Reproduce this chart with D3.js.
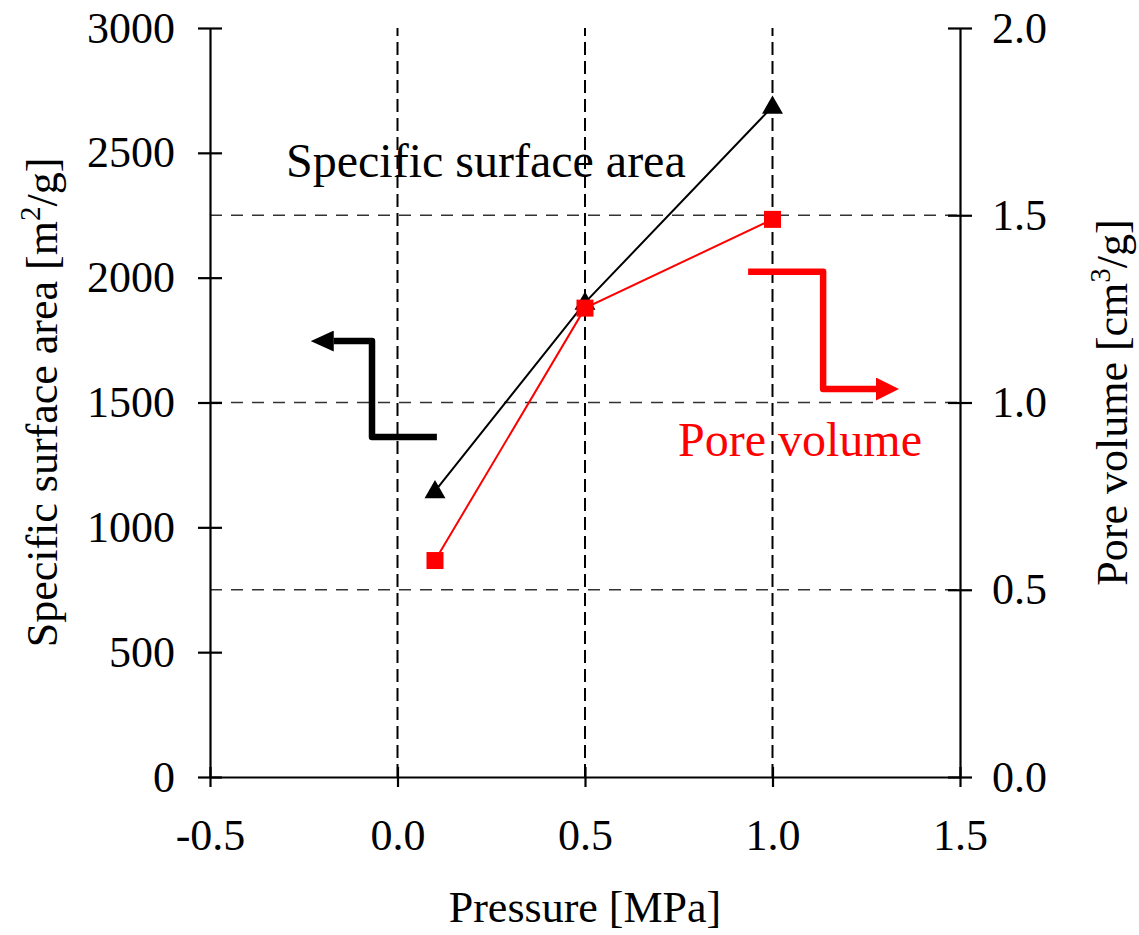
<!DOCTYPE html>
<html>
<head>
<meta charset="utf-8">
<script src="https://cdn.jsdelivr.net/npm/d3@7"></script>
<style>
  body { margin: 0; background: #fff; }
  text { font-family: "Liberation Serif", "Times New Roman", serif; }
</style>
</head>
<body>
<div id="viz"></div>
<script>
var width = 1139;
var height = 935;
var margin = {top: 28, right: 179, bottom: 158, left: 210};

// data
var pressure = [0.1, 0.5, 1.0];
var surfaceArea = [1145, 1900, 2685];
var poreVolume = [0.578, 1.252, 1.489];

var xTicks = [-0.5, 0.0, 0.5, 1.0, 1.5];
var yLeftTicks = [0, 500, 1000, 1500, 2000, 2500, 3000];
var yRightTicks = [0.0, 0.5, 1.0, 1.5, 2.0];
var xGrid = [0.0, 0.5, 1.0];
var yRightGrid = [0.5, 1.0, 1.5];

// annotation arrows, in data units (x, left axis)
var blackArrow = [[0.105, 1362], [-0.068, 1362], [-0.068, 1746], [-0.17, 1746]];
// red arrow, in data units (x, right axis)
var redArrow = [[0.935, 1.349], [1.135, 1.349], [1.135, 1.036], [1.276, 1.036]];

var plotW = width - margin.left - margin.right;
var plotH = height - margin.top - margin.bottom;

var x = d3.scaleLinear().domain([-0.5, 1.5]).range([margin.left, margin.left + plotW]);
var yL = d3.scaleLinear().domain([0, 3000]).range([margin.top + plotH, margin.top]);
var yR = d3.scaleLinear().domain([0, 2]).range([margin.top + plotH, margin.top]);

var svg = d3.select('#viz').append('svg')
  .attr('width', width)
  .attr('height', height);

var defs = svg.append('defs');
function addHead(id, color, w, h) {
  defs.append('marker')
    .attr('id', id)
    .attr('viewBox', '0 0 10 10')
    .attr('refX', 0).attr('refY', 5)
    .attr('markerUnits', 'userSpaceOnUse')
    .attr('markerWidth', w).attr('markerHeight', h)
    .attr('preserveAspectRatio', 'none')
    .attr('orient', 'auto')
    .append('path')
    .attr('d', 'M0,0 L10,5 L0,10 Z')
    .attr('fill', color);
}
addHead('headBlack', '#000', 23, 21);
addHead('headRed', '#ff0000', 23, 23);

// grid lines
svg.append('g').selectAll('line').data(yRightGrid).enter().append('line')
  .attr('x1', x(-0.5)).attr('x2', x(1.5))
  .attr('y1', d => yR(d)).attr('y2', d => yR(d))
  .attr('stroke', '#333').attr('stroke-width', 1.3)
  .attr('stroke-dasharray', '12,9');

svg.append('g').selectAll('line').data(xGrid).enter().append('line')
  .attr('x1', d => x(d)).attr('x2', d => x(d))
  .attr('y1', yL(0)).attr('y2', yL(3000))
  .attr('stroke', '#000').attr('stroke-width', 2)
  .attr('stroke-dasharray', '13,6');

// axes
var fmt1 = d => d3.format('.1f')(d).replace('\u2212', '-');
var xAxis = d3.axisBottom(x).tickValues(xTicks).tickFormat(fmt1)
  .tickSizeInner(10).tickSizeOuter(0).tickPadding(32);
var gx = svg.append('g').attr('transform', 'translate(0,' + yL(0) + ')').call(xAxis);

var leftAxis = d3.axisLeft(yL).tickValues(yLeftTicks).tickFormat(d3.format('d'))
  .tickSizeInner(12).tickSizeOuter(0).tickPadding(23);
var gl = svg.append('g').attr('transform', 'translate(' + x(-0.5) + ',0)').call(leftAxis);

var rightAxis = d3.axisRight(yR).tickValues(yRightTicks).tickFormat(fmt1)
  .tickSizeInner(12).tickSizeOuter(0).tickPadding(20);
var gr = svg.append('g').attr('transform', 'translate(' + x(1.5) + ',0)').call(rightAxis);

[gx, gl, gr].forEach(g => {
  g.select('.domain').attr('stroke', '#000').attr('stroke-width', 2.2);
  g.selectAll('.tick line').attr('stroke', '#000').attr('stroke-width', 2.2);
  g.selectAll('.tick text')
    .attr('fill', '#000')
    .style('font-family', '"Liberation Serif", "Times New Roman", serif')
    .style('font-size', '44px');
});
// ticks cross the axis line
gx.selectAll('.tick line').attr('y1', -10);
gl.selectAll('.tick line').attr('x1', 12);
gr.selectAll('.tick line').attr('x1', -12);

// series lines
var lineL = d3.line().x((d, i) => x(pressure[i])).y(d => yL(d));
var lineR = d3.line().x((d, i) => x(pressure[i])).y(d => yR(d));

svg.append('path').datum(surfaceArea)
  .attr('d', lineL).attr('fill', 'none')
  .attr('stroke', '#000').attr('stroke-width', 2);

svg.append('path').datum(poreVolume)
  .attr('d', lineR).attr('fill', 'none')
  .attr('stroke', '#ff0000').attr('stroke-width', 2);

// markers
svg.append('g').selectAll('path').data(surfaceArea).enter().append('path')
  .attr('d', d3.symbol().type(d3.symbolTriangle).size(190))
  .attr('transform', (d, i) => 'translate(' + x(pressure[i]) + ',' + (yL(d) + 1) + ')')
  .attr('fill', '#000');

svg.append('g').selectAll('rect').data(poreVolume).enter().append('rect')
  .attr('x', (d, i) => x(pressure[i]) - 8.5)
  .attr('y', d => yR(d) - 8.5)
  .attr('width', 17).attr('height', 17)
  .attr('fill', '#ff0000');

// arrows
var arrowLineL = d3.line().x(d => x(d[0])).y(d => yL(d[1]));
var arrowLineR = d3.line().x(d => x(d[0])).y(d => yR(d[1]));

svg.append('path').datum(blackArrow)
  .attr('d', arrowLineL).attr('fill', 'none')
  .attr('stroke', '#000').attr('stroke-width', 6.5)
  .attr('stroke-linejoin', 'round')
  .attr('marker-end', 'url(#headBlack)');

svg.append('path').datum(redArrow)
  .attr('d', arrowLineR).attr('fill', 'none')
  .attr('stroke', '#ff0000').attr('stroke-width', 6.5)
  .attr('stroke-linejoin', 'round')
  .attr('marker-end', 'url(#headRed)');

// labels
svg.append('text')
  .attr('x', 286).attr('y', 177)
  .style('font-size', '48px').attr('fill', '#000')
  .text('Specific surface area');

svg.append('text')
  .attr('x', 678).attr('y', 456)
  .style('font-size', '48px').attr('fill', '#ff0000')
  .text('Pore volume');

// axis titles
svg.append('text')
  .attr('x', x(0.5)).attr('y', 922)
  .attr('text-anchor', 'middle')
  .style('font-size', '44px')
  .text('Pressure [MPa]');

var tl = svg.append('text')
  .attr('transform', 'translate(57,' + (margin.top + plotH / 2) + ') rotate(-90)')
  .attr('text-anchor', 'middle')
  .style('font-size', '44px');
tl.append('tspan').text('Specific surface area [m');
tl.append('tspan').attr('dy', -17).style('font-size', '29px').text('2');
tl.append('tspan').attr('dy', 17).text('/g]');

var tr = svg.append('text')
  .attr('transform', 'translate(1127,' + (margin.top + plotH / 2) + ') rotate(-90)')
  .attr('text-anchor', 'middle')
  .style('font-size', '44px');
tr.append('tspan').text('Pore volume [cm');
tr.append('tspan').attr('dy', -17).style('font-size', '29px').text('3');
tr.append('tspan').attr('dy', 17).text('/g]');
</script>
</body>
</html>
